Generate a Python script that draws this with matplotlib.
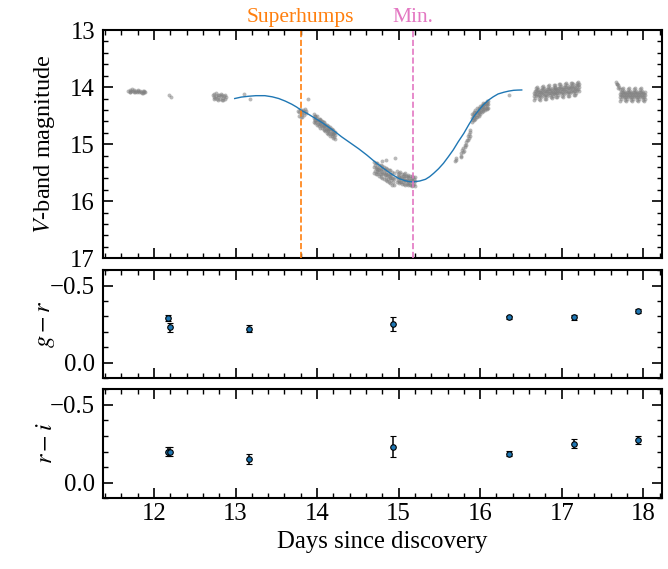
import matplotlib
matplotlib.use("Agg")
import matplotlib.pyplot as plt
from matplotlib.ticker import MultipleLocator
import numpy as np

plt.rcParams['font.family'] = 'serif'
plt.rcParams['font.serif'] = ['Liberation Serif', 'DejaVu Serif']
plt.rcParams['mathtext.fontset'] = 'stix'

# ---------------- data ----------------
# V-band photometry clusters (days since discovery, magnitude)
t_c1 = [11.68, 11.70, 11.71, 11.72, 11.74, 11.75, 11.76, 11.78, 11.79, 11.80, 11.82, 11.83,
        11.84, 11.86, 11.87, 11.88, 11.89, 11.70, 11.73, 11.77, 11.81, 11.85, 11.88]
m_c1 = [14.06, 14.05, 14.08, 14.06, 14.07, 14.05, 14.08, 14.06, 14.09, 14.07, 14.08, 14.06,
        14.09, 14.07, 14.10, 14.08, 14.09, 14.08, 14.04, 14.09, 14.05, 14.10, 14.07]

t_c2 = [12.18, 12.21, 13.10, 13.18, 13.89, 16.35]
m_c2 = [14.14, 14.17, 14.12, 14.21, 14.21, 14.14]

t_c3 = [12.72, 12.73, 12.74, 12.75, 12.76, 12.77, 12.78, 12.79, 12.80, 12.81, 12.82, 12.83,
        12.84, 12.85, 12.86, 12.87, 12.88, 12.73, 12.76, 12.79, 12.82, 12.85, 12.87]
m_c3 = [14.13, 14.17, 14.12, 14.19, 14.15, 14.21, 14.14, 14.18, 14.13, 14.20, 14.16, 14.22,
        14.14, 14.19, 14.15, 14.21, 14.17, 14.21, 14.11, 14.23, 14.12, 14.23, 14.13]

t_c5 = [13.77, 13.78, 13.79, 13.80, 13.81, 13.82, 13.83, 13.84, 13.85, 13.86, 13.87,
        13.78, 13.80, 13.82, 13.84]
m_c5 = [14.42, 14.50, 14.38, 14.46, 14.41, 14.53, 14.40, 14.44, 14.39, 14.45, 14.42,
        14.44, 14.52, 14.47, 14.49]

t_c6 = [13.96, 13.98, 14.00, 14.02, 14.04, 14.06, 14.08, 14.10, 14.12, 14.14, 14.16, 14.18, 14.20, 14.22]
m_c6_hi = [14.47, 14.50, 14.51, 14.55, 14.56, 14.60, 14.61, 14.64, 14.66, 14.69, 14.70, 14.74, 14.75, 14.78]
m_c6_md = [14.54, 14.57, 14.58, 14.62, 14.63, 14.66, 14.69, 14.70, 14.73, 14.76, 14.77, 14.80, 14.83, 14.84]
m_c6_lo = [14.61, 14.63, 14.66, 14.68, 14.71, 14.72, 14.76, 14.77, 14.80, 14.82, 14.85, 14.86, 14.89, 14.91]
t_c6b = [13.97, 13.99, 14.01, 14.03, 14.05, 14.07, 14.09, 14.11, 14.13, 14.15, 14.17, 14.19, 14.21]
m_c6b_1 = [14.51, 14.62, 14.58, 14.65, 14.59, 14.69, 14.66, 14.75, 14.73, 14.81, 14.74, 14.83, 14.81]
m_c6b_2 = [14.58, 14.54, 14.65, 14.58, 14.66, 14.62, 14.73, 14.69, 14.77, 14.72, 14.83, 14.78, 14.87]

t_c7 = [14.70, 14.72, 14.74, 14.76, 14.78, 14.80, 14.82, 14.84, 14.86, 14.88, 14.90, 14.92, 14.94]
m_c7_hi = [15.31, 15.33, 15.33, 15.36, 15.37, 15.38, 15.40, 15.41, 15.43, 15.45, 15.46, 15.49, 15.50]
m_c7_md = [15.40, 15.42, 15.44, 15.45, 15.47, 15.49, 15.50, 15.52, 15.54, 15.56, 15.57, 15.60, 15.61]
m_c7_lo = [15.50, 15.52, 15.53, 15.56, 15.57, 15.59, 15.61, 15.62, 15.65, 15.66, 15.68, 15.71, 15.72]
t_c7b = [14.71, 14.73, 14.75, 14.77, 14.79, 14.81, 14.83, 14.85, 14.87, 14.89, 14.91, 14.93]
m_c7b_1 = [15.36, 15.47, 15.43, 15.52, 15.44, 15.52, 15.45, 15.58, 15.52, 15.60, 15.54, 15.67]
m_c7b_2 = [15.47, 15.40, 15.49, 15.41, 15.53, 15.44, 15.54, 15.49, 15.61, 15.52, 15.63, 15.59]

t_out = [14.80, 14.96, 14.84]
m_out = [15.29, 15.25, 15.27]

t_c8 = [14.98, 15.00, 15.02, 15.04, 15.06, 15.08, 15.10, 15.12, 15.14, 15.16, 15.18, 15.20]
m_c8_hi = [15.47, 15.50, 15.49, 15.52, 15.53, 15.51, 15.55, 15.54, 15.56, 15.55, 15.57, 15.58]
m_c8_md = [15.57, 15.58, 15.60, 15.61, 15.60, 15.62, 15.63, 15.62, 15.64, 15.63, 15.65, 15.64]
m_c8_lo = [15.66, 15.68, 15.67, 15.70, 15.69, 15.71, 15.70, 15.72, 15.71, 15.73, 15.72, 15.74]
t_c8b = [14.99, 15.01, 15.03, 15.05, 15.07, 15.09, 15.11, 15.13, 15.15, 15.17, 15.19]
m_c8b_1 = [15.52, 15.64, 15.57, 15.67, 15.56, 15.65, 15.57, 15.67, 15.62, 15.70, 15.61]
m_c8b_2 = [15.62, 15.55, 15.66, 15.56, 15.63, 15.56, 15.68, 15.60, 15.71, 15.59, 15.70]

t_rise = [15.69, 15.70, 15.70, 15.76, 15.77, 15.78, 15.79, 15.80, 15.77, 15.79,
          15.82, 15.83, 15.84, 15.85, 15.86, 15.87, 15.88, 15.83, 15.85, 15.87, 15.81, 15.86]
m_rise = [15.30, 15.27, 15.24, 15.22, 15.16, 15.10, 15.06, 15.12, 15.21, 15.14,
          15.02, 14.96, 14.92, 14.86, 14.82, 14.78, 14.75, 15.01, 14.93, 14.85, 15.05, 14.89]

t_c9 = [15.90, 15.92, 15.94, 15.96, 15.98, 16.00, 16.02, 16.04, 16.06, 16.08, 16.10]
m_c9_hi = [14.47, 14.44, 14.40, 14.37, 14.36, 14.33, 14.31, 14.28, 14.27, 14.25, 14.24]
m_c9_md = [14.54, 14.51, 14.48, 14.45, 14.43, 14.40, 14.37, 14.35, 14.33, 14.31, 14.30]
m_c9_lo = [14.61, 14.58, 14.55, 14.52, 14.50, 14.47, 14.44, 14.41, 14.40, 14.38, 14.36]
t_c9b = [15.91, 15.93, 15.95, 15.97, 15.99, 16.01, 16.03, 16.05, 16.07, 16.09]
m_c9b_1 = [14.48, 14.54, 14.44, 14.49, 14.38, 14.42, 14.31, 14.38, 14.30, 14.36]
m_c9b_2 = [14.57, 14.45, 14.52, 14.41, 14.46, 14.35, 14.39, 14.29, 14.37, 14.28]

t_c11 = [16.660, 16.672, 16.684, 16.696, 16.708, 16.720, 16.732, 16.744, 16.756, 16.768,
         16.780, 16.792, 16.804, 16.816, 16.828, 16.840, 16.852, 16.864, 16.876, 16.888,
         16.900, 16.912, 16.924, 16.936, 16.948, 16.960, 16.972, 16.984, 16.996, 17.008,
         17.020, 17.032, 17.044, 17.056, 17.068, 17.080, 17.092, 17.104, 17.116, 17.128,
         17.140, 17.152, 17.164, 17.176, 17.188, 17.200, 17.212]
m_c11_md = [14.16, 14.12, 14.07, 14.05, 14.09, 14.14, 14.15, 14.11, 14.05, 14.04,
            14.08, 14.13, 14.13, 14.09, 14.04, 14.03, 14.07, 14.11, 14.12, 14.08,
            14.03, 14.02, 14.05, 14.10, 14.11, 14.07, 14.01, 14.00, 14.04, 14.09,
            14.10, 14.05, 14.00, 13.99, 14.03, 14.08, 14.08, 14.04, 13.99, 13.98,
            14.01, 14.06, 14.07, 14.03, 13.98, 13.96, 14.00]
m_c11_hi = [14.10, 14.06, 14.01, 13.99, 14.03, 14.08, 14.09, 14.05, 13.99, 13.98,
            14.02, 14.07, 14.07, 14.03, 13.98, 13.97, 14.01, 14.05, 14.06, 14.02,
            13.97, 13.96, 13.99, 14.04, 14.05, 14.01, 13.95, 13.94, 13.98, 14.03,
            14.04, 13.99, 13.94, 13.93, 13.97, 14.02, 14.02, 13.98, 13.93, 13.92,
            13.95, 14.00, 14.01, 13.97, 13.92, 13.91, 13.94]
m_c11_lo = [14.23, 14.19, 14.14, 14.12, 14.16, 14.21, 14.22, 14.18, 14.12, 14.11,
            14.15, 14.20, 14.20, 14.16, 14.11, 14.10, 14.14, 14.18, 14.19, 14.15,
            14.10, 14.09, 14.12, 14.17, 14.18, 14.14, 14.08, 14.07, 14.11, 14.16,
            14.17, 14.12, 14.07, 14.06, 14.10, 14.15, 14.15, 14.11, 14.06, 14.05,
            14.08, 14.13, 14.14, 14.10, 14.05, 14.03, 14.07]

t_c12a = [17.67, 17.675, 17.68, 17.69, 17.69, 17.70, 17.71]
m_c12a = [13.91, 13.95, 13.94, 13.97, 14.01, 14.00, 14.04]

t_c12 = [17.720, 17.732, 17.744, 17.756, 17.768, 17.780, 17.792, 17.804, 17.816, 17.828,
         17.840, 17.852, 17.864, 17.876, 17.888, 17.900, 17.912, 17.924, 17.936, 17.948,
         17.960, 17.972, 17.984, 17.996, 18.008, 18.020]
m_c12_md = [14.18, 14.14, 14.09, 14.08, 14.12, 14.17, 14.18, 14.14, 14.09, 14.08,
            14.12, 14.17, 14.18, 14.14, 14.09, 14.08, 14.12, 14.17, 14.18, 14.14,
            14.09, 14.08, 14.12, 14.17, 14.18, 14.14]
m_c12_hi = [14.12, 14.08, 14.03, 14.02, 14.06, 14.11, 14.12, 14.08, 14.03, 14.02,
            14.06, 14.11, 14.12, 14.08, 14.03, 14.02, 14.06, 14.11, 14.12, 14.08,
            14.03, 14.02, 14.06, 14.11, 14.12, 14.08]
m_c12_lo = [14.24, 14.20, 14.15, 14.14, 14.18, 14.23, 14.24, 14.20, 14.15, 14.14,
            14.18, 14.23, 14.24, 14.20, 14.15, 14.14, 14.18, 14.23, 14.24, 14.20,
            14.15, 14.14, 14.18, 14.23, 14.24, 14.20]

# model curve
curve_t = [12.99, 13.07, 13.16, 13.25, 13.36, 13.45, 13.53, 13.61, 13.69, 13.75, 13.81,
           13.90, 13.98, 14.06, 14.14, 14.22, 14.30, 14.40, 14.51, 14.61, 14.71, 14.82,
           14.92, 15.00, 15.08, 15.13, 15.18, 15.26, 15.33, 15.38, 15.43, 15.49, 15.55,
           15.61, 15.67, 15.73, 15.80, 15.86, 15.92, 15.98, 16.04, 16.10, 16.16, 16.22,
           16.29, 16.35, 16.41, 16.46, 16.51]
curve_m = [14.20, 14.175, 14.16, 14.15, 14.15, 14.17, 14.20, 14.245, 14.30, 14.35, 14.41,
           14.48, 14.55, 14.62, 14.70, 14.78, 14.87, 14.97, 15.08, 15.19, 15.31, 15.43,
           15.53, 15.60, 15.64, 15.655, 15.66, 15.645, 15.615, 15.57, 15.51, 15.43, 15.335,
           15.22, 15.10, 14.96, 14.81, 14.66, 14.52, 14.41, 14.31, 14.23, 14.17, 14.12,
           14.09, 14.07, 14.056, 14.052, 14.05]

# colours
col_t = [12.17, 12.195, 13.17, 14.93, 16.35, 17.15, 17.93]
gr = [-0.29, -0.23, -0.22, -0.25, -0.295, -0.295, -0.335]
gr_err = [0.018, 0.030, 0.022, 0.045, 0.010, 0.015, 0.010]
ri = [-0.20, -0.20, -0.152, -0.232, -0.187, -0.251, -0.275]
ri_err = [0.030, 0.030, 0.033, 0.065, 0.018, 0.027, 0.027]

superhump_t = 13.80
minimum_t = 15.175

# ---------------- plot ----------------
fig = plt.figure(figsize=(6.68, 5.69), dpi=100)
L, W = 0.1546, 0.8359
ax1 = fig.add_axes([L, 0.5460, W, 0.4012])
ax2 = fig.add_axes([L, 0.3351, W, 0.1903], sharex=ax1)
ax3 = fig.add_axes([L, 0.1243, W, 0.1916], sharex=ax1)

pts = [(t_c1, m_c1), (t_c2, m_c2), (t_c3, m_c3), (t_c5, m_c5),
       (t_c6, m_c6_hi), (t_c6, m_c6_md), (t_c6, m_c6_lo), (t_c6b, m_c6b_1), (t_c6b, m_c6b_2),
       (t_c7, m_c7_hi), (t_c7, m_c7_md), (t_c7, m_c7_lo), (t_c7b, m_c7b_1), (t_c7b, m_c7b_2),
       (t_out, m_out),
       (t_c8, m_c8_hi), (t_c8, m_c8_md), (t_c8, m_c8_lo), (t_c8b, m_c8b_1), (t_c8b, m_c8b_2),
       (t_rise, m_rise),
       (t_c9, m_c9_hi), (t_c9, m_c9_md), (t_c9, m_c9_lo), (t_c9b, m_c9b_1), (t_c9b, m_c9b_2),
       (t_c11, m_c11_hi), (t_c11, m_c11_md), (t_c11, m_c11_lo),
       (t_c12a, m_c12a), (t_c12, m_c12_hi), (t_c12, m_c12_md), (t_c12, m_c12_lo)]
for tt, mm in pts:
    ax1.scatter(tt, mm, s=8, color='grey', alpha=0.55, lw=0, zorder=1)

ax1.plot(curve_t, curve_m, color='tab:blue', lw=1.0, zorder=3)
ax1.axvline(superhump_t, color='tab:orange', ls='--', lw=1.2, zorder=4)
ax1.axvline(minimum_t, color='tab:pink', ls='--', lw=1.2, zorder=4)
trans = ax1.get_xaxis_transform()
ax1.text(superhump_t, 1.015, 'Superhumps', transform=trans, ha='center', va='bottom',
         color='tab:orange', fontsize=15.5)
ax1.text(minimum_t, 1.015, 'Min.', transform=trans, ha='center', va='bottom',
         color='tab:pink', fontsize=15.5)

eb = dict(fmt='o', color='tab:blue', mec='black', mew=0.8, ms=4, ecolor='black',
          elinewidth=1.1, capsize=2.5, capthick=1.1)
ax2.errorbar(col_t, gr, yerr=gr_err, **eb)
ax3.errorbar(col_t, ri, yerr=ri_err, **eb)

ax1.set_xlim(11.378, 18.226)
ax1.set_ylim(17, 13)
ax2.set_ylim(0.1, -0.6)
ax3.set_ylim(0.1, -0.6)

ax1.yaxis.set_major_locator(MultipleLocator(1))
ax1.yaxis.set_minor_locator(MultipleLocator(0.2))
for ax in (ax2, ax3):
    ax.yaxis.set_major_locator(MultipleLocator(0.5))
    ax.yaxis.set_minor_locator(MultipleLocator(0.1))
ax1.xaxis.set_major_locator(MultipleLocator(1))
ax1.xaxis.set_minor_locator(MultipleLocator(0.2))

for ax in (ax1, ax2, ax3):
    ax.tick_params(which='both', direction='in', top=True, right=True, labelsize=17.8)
    ax.tick_params(which='major', length=7, width=1.2)
    ax.tick_params(which='minor', length=3.5, width=1.0)
    ax.tick_params(axis='y', which='both', pad=6)
    for s in ax.spines.values():
        s.set_linewidth(1.5)
ax1.tick_params(labelbottom=False)
ax2.tick_params(labelbottom=False)

ax1.set_ylabel('$V$-band magnitude', fontsize=17.5)
ax2.set_ylabel('$g-r$', fontsize=17.5)
ax3.set_ylabel('$r-i$', fontsize=17.5)
for ax in (ax1, ax2, ax3):
    ax.yaxis.set_label_coords(-0.083, 0.5)
ax3.set_xlabel('Days since discovery', fontsize=17.8)

fig.savefig('out.png', dpi=100)
